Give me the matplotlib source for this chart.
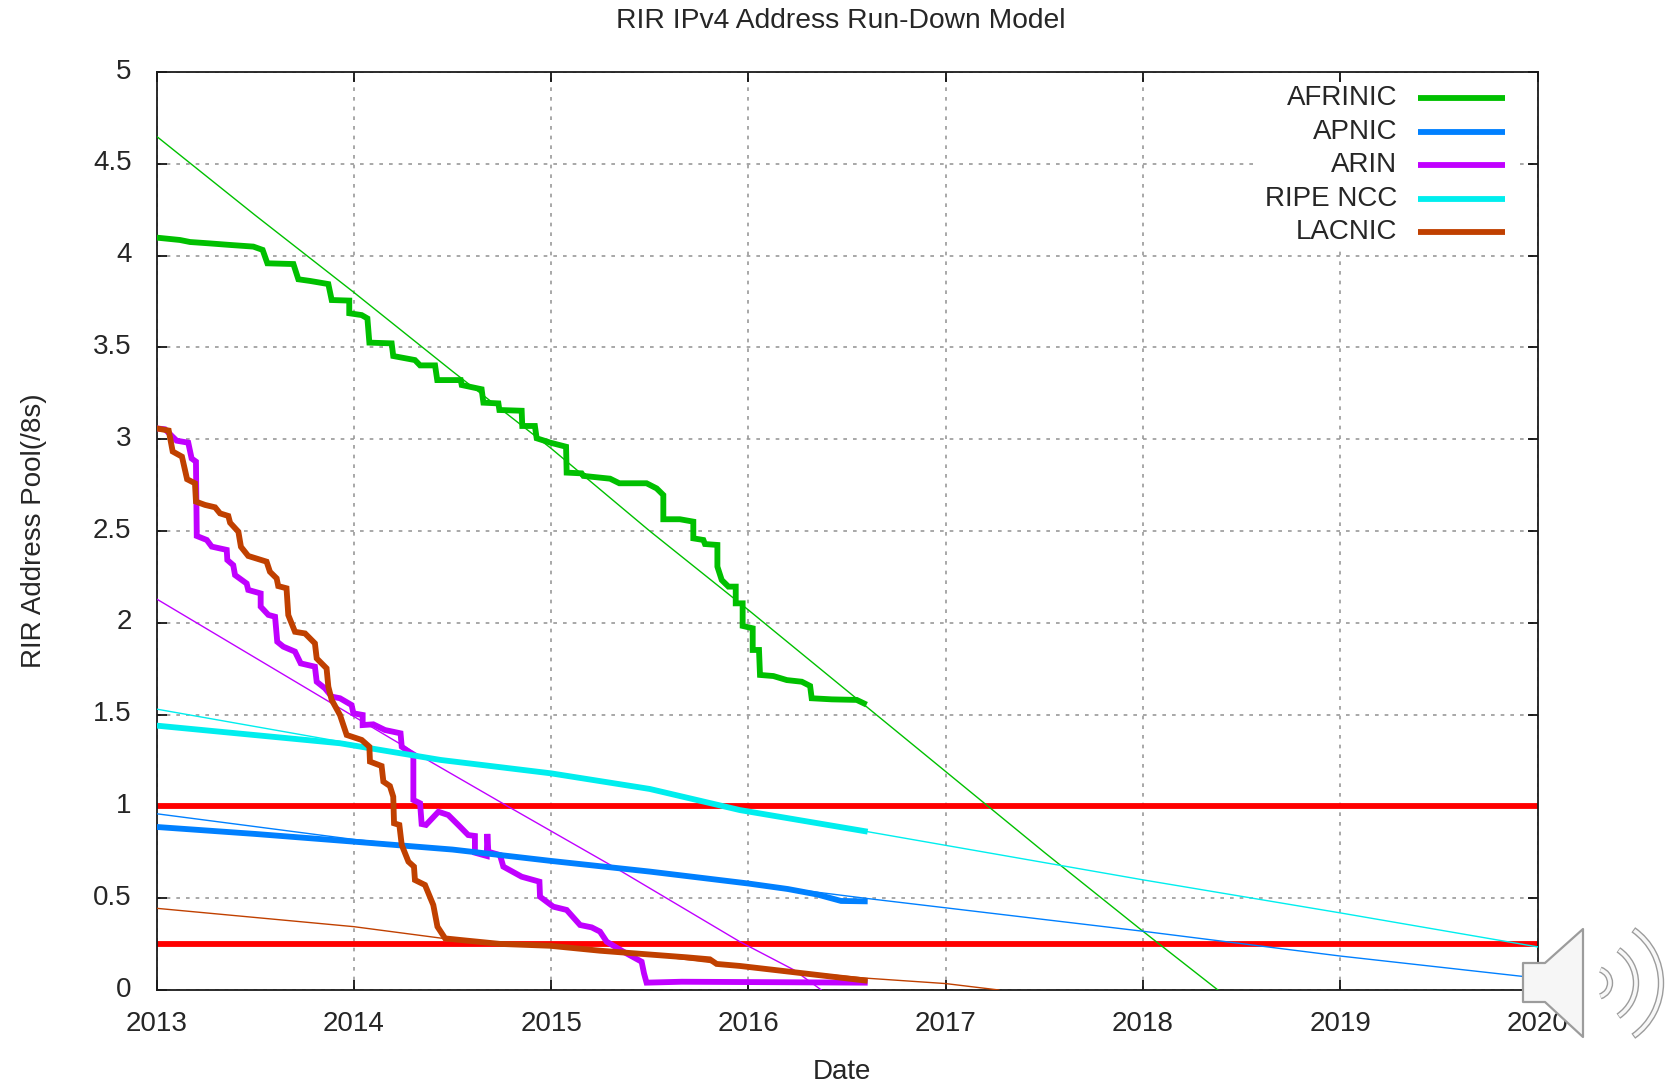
import matplotlib
matplotlib.use('Agg')
import matplotlib.pyplot as plt
import numpy as np
from matplotlib.patches import Polygon, Rectangle, Arc
from matplotlib.transforms import ScaledTranslation

plt.rcParams['font.family'] = ['Liberation Sans', 'DejaVu Sans']

# all x values are years since 2013
base_year = 2013
year_ticks = [2013, 2014, 2015, 2016, 2017, 2018, 2019, 2020]
value_ticks = [0, 0.5, 1, 1.5, 2, 2.5, 3, 3.5, 4, 4.5, 5]
value_tick_labels = ['0', '0.5', '1', '1.5', '2', '2.5', '3', '3.5', '4', '4.5', '5']
threshold_values = [1, 0.25]

afrinic_t = [0, .119, .170, .263, .373, .491, .538, .562, .694, .719, .778, .871, .888, .977, .977,
             1.040, 1.069, 1.079, 1.192, 1.200, 1.310, 1.336, 1.412, 1.423, 1.542, 1.547, 1.648, 1.657,
             1.733, 1.738, 1.851, 1.854, 1.918, 1.927, 2.000, 2.076, 2.079, 2.155, 2.164, 2.299, 2.346,
             2.484, 2.535, 2.569, 2.569, 2.653, 2.721, 2.721, 2.772, 2.780, 2.843, 2.843, 2.865, 2.899,
             2.936, 2.936, 2.971, 2.971, 3.022, 3.022, 3.054, 3.059, 3.127, 3.195, 3.271, 3.313, 3.321,
             3.423, 3.549, 3.586]
afrinic_v = [4.098, 4.085, 4.074, 4.067, 4.058, 4.049, 4.031, 3.958, 3.954, 3.871, 3.862, 3.845, 3.758, 3.755, 3.686,
             3.676, 3.658, 3.526, 3.522, 3.453, 3.431, 3.402, 3.402, 3.322, 3.322, 3.295, 3.272, 3.199,
             3.195, 3.159, 3.155, 3.072, 3.072, 3.005, 2.980, 2.959, 2.818, 2.814, 2.800, 2.785, 2.760,
             2.760, 2.732, 2.696, 2.564, 2.564, 2.551, 2.460, 2.451, 2.429, 2.424, 2.306, 2.233, 2.197,
             2.197, 2.106, 2.106, 1.983, 1.970, 1.852, 1.852, 1.716, 1.710, 1.688, 1.679, 1.656, 1.589,
             1.583, 1.580, 1.561]
afrinic_fit_t = [0, .5, 1, 1.5, 2, 2.5, 3, 3.5, 4, 4.5, 5, 5.38]
afrinic_fit_v = [4.65, 4.22, 3.80, 3.37, 2.95, 2.50, 2.07, 1.63, 1.19, .75, .32, 0]

arin_t = [0, .043, .102, .161, .178, .200, .204, .255, .280, .356, .359, .389, .398, .457, .465, .528, .528,
          .567, .601, .612, .643, .702, .731, .803, .812, .854, .888, .930, .989, .998, 1.045, 1.045, 1.099,
          1.158, 1.237, 1.243, 1.302, 1.302, 1.336, 1.344, 1.366, 1.429, 1.479, 1.538, 1.580, 1.614, 1.614,
          1.674, 1.677, 1.682, 1.741, 1.758, 1.851, 1.941, 1.944, 2.011, 2.079, 2.147, 2.206, 2.248, 2.282,
          2.366, 2.459, 2.471, 2.484, 2.662, 3.590]
arin_v = [3.059, 3.054, 2.992, 2.981, 2.895, 2.878, 2.473, 2.451, 2.415, 2.397, 2.342, 2.314, 2.260, 2.214, 2.179, 2.160, 2.088,
          2.043, 2.033, 1.897, 1.870, 1.843, 1.779, 1.761, 1.679, 1.643, 1.598, 1.589, 1.552, 1.507, 1.498, 1.443, 1.447,
          1.416, 1.398, 1.325, 1.280, 1.035, 1.017, .904, .899, .971, .953, .890, .844, .839, .748,
          .730, .850, .753, .735, .672, .617, .590, .508, .454, .436, .354, .341, .318, .263,
          .209, .154, .091, .040, .045, .040]
arin_fit_t = [0, 1, 1.33, 1.77, 2.33, 2.957, 3.23, 3.37]
arin_fit_v = [2.13, 1.49, 1.28, 1.007, .663, .263, .11, 0]

apnic_t = [0, .5, 1, 1.5, 2, 2.5, 3, 3.2, 3.35, 3.47, 3.59]
apnic_v = [.888, .85, .808, .765, .703, .645, .58, .55, .52, .485, .483]
apnic_fit_t = [0, 1, 1.5, 2, 2.5, 3, 3.59, 5, 6, 7]
apnic_fit_v = [.96, .82, .765, .703, .645, .58, .50, .32, .185, .065]

ripe_t = [0, .93, 1.44, 2, 2.5, 2.957, 3.59]
ripe_v = [1.44, 1.344, 1.253, 1.18, 1.095, .98, .865]
ripe_fit_t = [0, 1, 1.44, 2, 2.5, 2.957, 3.59, 5, 6, 7]
ripe_fit_v = [1.53, 1.34, 1.253, 1.18, 1.095, .98, .865, .60, .42, .235]

lacnic_t = [0, .062, .082, .129, .155, .195, .200, .246, .297, .322, .364, .373, .415, .428, .465, .558, .575,
            .609, .617, .659, .668, .702, .753, .803, .812, .862, .871, .888, .930, .964, 1.040, 1.079, 1.082,
            1.141, 1.150, 1.183, 1.200, 1.204, 1.231, 1.243, 1.277, 1.305, 1.310, 1.361, 1.403, 1.424, 1.463,
            1.572, 1.741, 1.994, 2.248, 2.417, 2.687, 2.805, 2.839, 2.957, 3.31, 3.59]
lacnic_v = [3.059, 3.047, 2.933, 2.905, 2.782, 2.760, 2.660, 2.642, 2.629, 2.596, 2.582, 2.545, 2.496, 2.414, 2.364, 2.333, 2.278,
            2.242, 2.200, 2.188, 2.042, 1.951, 1.942, 1.888, 1.806, 1.752, 1.652, 1.580, 1.498, 1.389, 1.362, 1.325, 1.244,
            1.220, 1.135, 1.111, 1.053, .908, .899, .790, .699, .672, .599, .572, .463, .345, .281,
            .269, .251, .241, .214, .200, .178, .167, .142, .131, .087, .052]
lacnic_fit_t = [0, 1, 1.46, 2, 2.5, 3, 3.59, 4, 4.27]
lacnic_fit_v = [.445, .345, .28, .24, .19, .125, .065, .035, 0]

series_names = ['AFRINIC', 'APNIC', 'ARIN', 'RIPE NCC', 'LACNIC']
series_colors = ['#00C000', '#0080FF', '#C000FF', '#00EEEE', '#C04000']

fig = plt.figure(figsize=(16.7, 10.84), dpi=100)
ax = fig.add_axes([156.5 / 1670, 94 / 1084, 1381 / 1670, 918 / 1084])
text_color = '#262626'
thick = 4.2

# red thresholds go under the data lines
for v in threshold_values:
    ax.axhline(v, color='#FF0000', lw=thick, zorder=2, solid_capstyle='butt')


def draw_series(t, v, fit_t, fit_v, color, z):
    ax.plot(np.array(fit_t) + base_year, fit_v, color=color, lw=1.0, zorder=z)
    ax.plot(np.array(t) + base_year, v, color=color, lw=thick, zorder=z + 0.1,
            solid_joinstyle='miter')


draw_series(afrinic_t, afrinic_v, afrinic_fit_t, afrinic_fit_v, series_colors[0], 3)
draw_series(arin_t, arin_v, arin_fit_t, arin_fit_v, series_colors[2], 4)
draw_series(apnic_t, apnic_v, apnic_fit_t, apnic_fit_v, series_colors[1], 5)
draw_series(ripe_t, ripe_v, ripe_fit_t, ripe_fit_v, series_colors[3], 6)
draw_series(lacnic_t, lacnic_v, lacnic_fit_t, lacnic_fit_v, series_colors[4], 7)

ax.set_xlim(2013, 2020)
ax.set_ylim(0, 5)
ax.set_xticks(year_ticks)
ax.set_yticks(value_ticks)
ax.set_yticklabels(value_tick_labels)
ax.set_axisbelow(True)
ax.grid(True, color='#9a9a9a', lw=1.2, linestyle=(0, (2.2, 3.6)))
ax.tick_params(direction='in', length=7.5, width=1.2, top=True, right=True, labelsize=20,
               labelcolor=text_color)
ax.tick_params(axis='x', pad=15)
ax.tick_params(axis='y', pad=18)
# y labels sit a little above their ticks
for label in ax.get_yticklabels():
    label.set_transform(label.get_transform() + ScaledTranslation(0, 2.5 / 72, fig.dpi_scale_trans))
for spine in ax.spines.values():
    spine.set_linewidth(1.3)
    spine.set_color('#1a1a1a')

ax.set_title('RIR IPv4 Address Run-Down Model', fontsize=20.3, color=text_color, pad=32, x=0.4954)
ax.set_xlabel('Date', fontsize=20, color=text_color)
ax.xaxis.set_label_coords(0.4963, -0.0757)
ax.set_ylabel('RIR Address Pool(/8s)', fontsize=20, color=text_color)
ax.yaxis.set_label_coords(-0.0794, 0.5)

# key sits on a white block that hides the grid behind it
ax.add_patch(Rectangle((0.7976, 0.806), 0.1894, 0.183, transform=ax.transAxes,
                       facecolor='white', edgecolor='none', zorder=1))
key_y = [0.9717, 0.9346, 0.8987, 0.8617, 0.8257]
for name, color, y in zip(series_names, series_colors, key_y):
    ax.text(0.8985, y, name, transform=ax.transAxes, ha='right', va='center', fontsize=20, color=text_color)
    ax.plot([0.9134, 0.9764], [y, y], transform=ax.transAxes, color=color, lw=thick, zorder=8,
            solid_capstyle='butt')

# speaker icon laid over the corner of the chart, in pixel coordinates
over = fig.add_axes([0, 0, 1, 1], zorder=10)
over.set_xlim(0, 1670)
over.set_ylim(1084, 0)
over.axis('off')
over.patch.set_alpha(0)
over.add_patch(Polygon([(1523, 963), (1545, 963), (1583, 929), (1583, 1037), (1545, 1002), (1523, 1002)],
                       closed=True, facecolor='#f6f6f6', edgecolor='#9c9c9c', lw=1.6, joinstyle='round'))
for r, half in [(14, 72), (40, 56), (65, 55)]:
    over.add_patch(Arc((1596, 983), 2 * r, 2 * r, theta1=-half, theta2=half, color='#9c9c9c', lw=4.6))
    over.add_patch(Arc((1596, 983), 2 * r, 2 * r, theta1=-half + 1, theta2=half - 1, color='#f8f8f8', lw=2.6))

fig.savefig('out.png', dpi=100)
